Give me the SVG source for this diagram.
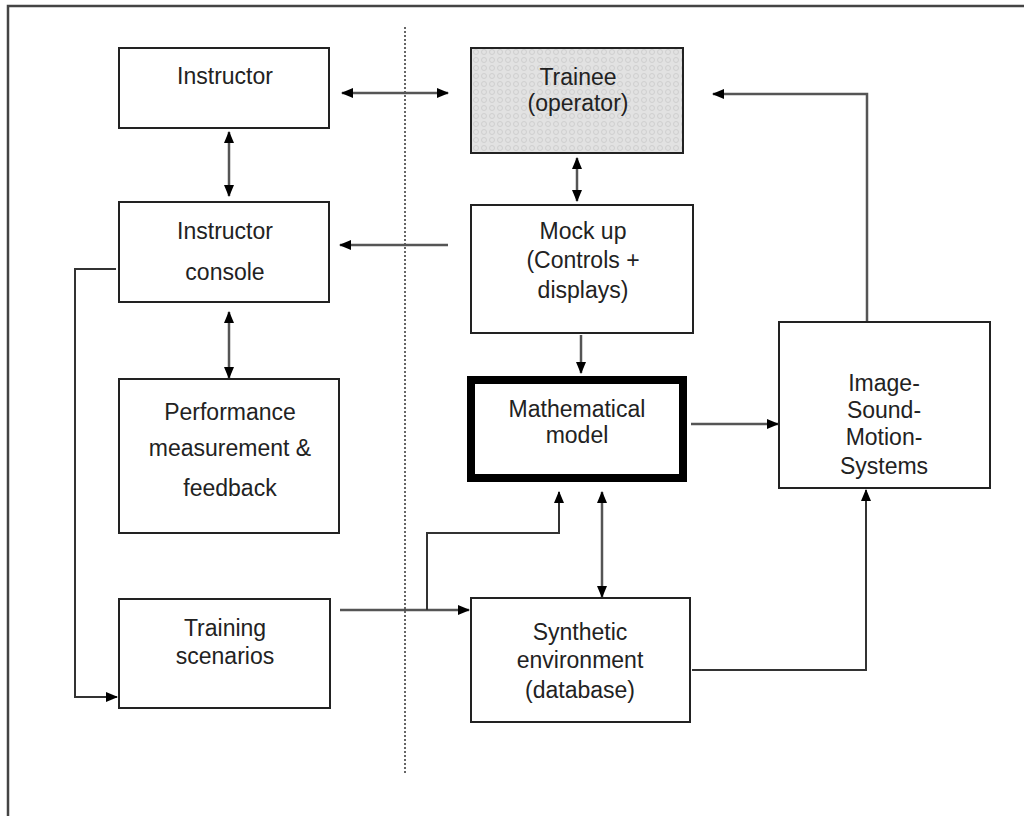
<svg xmlns="http://www.w3.org/2000/svg" width="1024" height="816" viewBox="0 0 1024 816">
<defs>
<style>
.box{fill:#fff;stroke:#222;stroke-width:2}
.thick{fill:#fff;stroke:#000;stroke-width:8}
.t{font-family:"Liberation Sans",Arial,sans-serif;font-size:23px;fill:#222;text-anchor:middle}
.c{fill:none;stroke:#555;stroke-width:2.5}
.ce{fill:none;stroke:#333;stroke-width:2}
</style>
<marker id="ah" markerWidth="12" markerHeight="10" refX="11" refY="5" orient="auto-start-reverse" markerUnits="userSpaceOnUse">
<path d="M0,0 L12,5 L0,10 Z" fill="#000"/>
</marker>
<pattern id="dots" width="8" height="8" patternUnits="userSpaceOnUse">
<rect width="8" height="8" fill="#e2e2e2"/>
<circle cx="4" cy="4" r="2.5" fill="none" stroke="#cfcfcf" stroke-width="1"/>
</pattern>
</defs>
<rect x="8" y="6" width="1030" height="830" fill="none" stroke="#444" stroke-width="2.5"/>
<line x1="405" y1="27" x2="405" y2="775" stroke="#333" stroke-width="1.5" stroke-dasharray="2,2"/>

<g id="connectors">
<line class="c" x1="342" y1="93" x2="448" y2="93" marker-start="url(#ah)" marker-end="url(#ah)"/>
<line class="c" x1="229" y1="132" x2="229" y2="196" marker-start="url(#ah)" marker-end="url(#ah)"/>
<line class="c" x1="577" y1="158" x2="577" y2="201" marker-start="url(#ah)" marker-end="url(#ah)"/>
<line class="c" x1="448" y1="245" x2="340" y2="245" marker-end="url(#ah)"/>
<line class="c" x1="229" y1="312" x2="229" y2="378" marker-start="url(#ah)" marker-end="url(#ah)"/>
<line class="c" x1="581" y1="335" x2="581" y2="373" marker-end="url(#ah)"/>
<line class="c" x1="691" y1="424" x2="778" y2="424" marker-end="url(#ah)"/>
<polyline class="c" points="867,322 867,94 713,94" marker-end="url(#ah)"/>
<polyline class="ce" points="116,269 75,269 75,697 117,697" marker-end="url(#ah)"/>
<line class="c" x1="340" y1="610" x2="469" y2="610" marker-end="url(#ah)"/>
<polyline class="ce" points="427,610 427,533 559,533 559,492" marker-end="url(#ah)"/>
<line class="c" x1="602" y1="492" x2="602" y2="597" marker-start="url(#ah)" marker-end="url(#ah)"/>
<polyline class="ce" points="692,670 866,670 866,490" marker-end="url(#ah)"/>
</g>

<g id="instructor">
<rect class="box" x="119" y="48" width="210" height="80"/>
<text class="t" x="225" y="84">Instructor</text>
</g>
<g id="trainee">
<rect x="471" y="48" width="212" height="105" fill="url(#dots)" stroke="#222" stroke-width="2"/>
<text class="t" x="578" y="85">Trainee</text>
<text class="t" x="578" y="111">(operator)</text>
</g>
<g id="console">
<rect class="box" x="119" y="202" width="210" height="100"/>
<text class="t" x="225" y="239">Instructor</text>
<text class="t" x="225" y="280">console</text>
</g>
<g id="mockup">
<rect class="box" x="471" y="205" width="222" height="128"/>
<text class="t" x="583" y="239">Mock up</text>
<text class="t" x="583" y="268">(Controls +</text>
<text class="t" x="583" y="298">displays)</text>
</g>
<g id="performance">
<rect class="box" x="119" y="379" width="220" height="154"/>
<text class="t" x="230" y="420">Performance</text>
<text class="t" x="230" y="456">measurement &amp;</text>
<text class="t" x="230" y="496">feedback</text>
</g>
<g id="math">
<rect class="thick" x="471" y="380" width="212" height="98"/>
<text class="t" x="577" y="417">Mathematical</text>
<text class="t" x="577" y="443">model</text>
</g>
<g id="image">
<rect class="box" x="779" y="322" width="211" height="166"/>
<text class="t" x="884" y="391">Image-</text>
<text class="t" x="884" y="418">Sound-</text>
<text class="t" x="884" y="445">Motion-</text>
<text class="t" x="884" y="474">Systems</text>
</g>
<g id="training">
<rect class="box" x="119" y="599" width="211" height="109"/>
<text class="t" x="225" y="636">Training</text>
<text class="t" x="225" y="664">scenarios</text>
</g>
<g id="synthetic">
<rect class="box" x="471" y="598" width="219" height="124"/>
<text class="t" x="580" y="640">Synthetic</text>
<text class="t" x="580" y="668">environment</text>
<text class="t" x="580" y="698">(database)</text>
</g>
</svg>
